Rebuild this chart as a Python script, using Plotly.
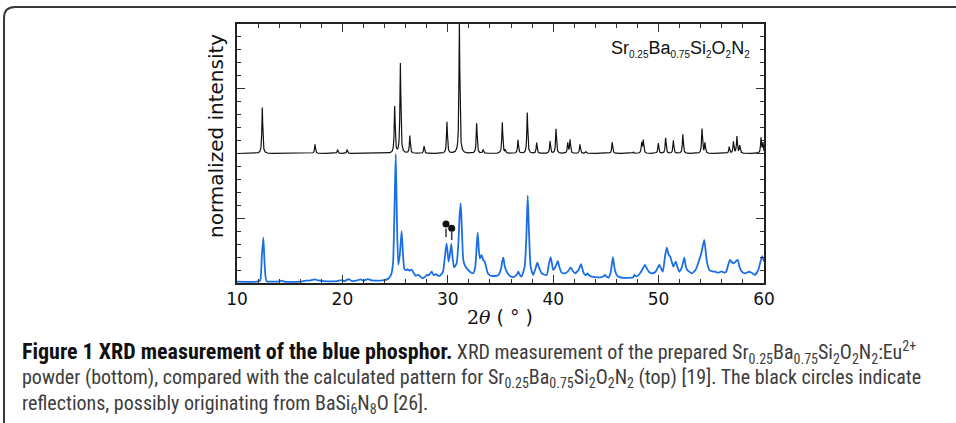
import numpy as np
import plotly.graph_objects as go

# ---- calculated pattern: reflections (2theta in degrees, normalized intensity)
calc_pos = [12.40, 17.40, 19.55, 20.45, 24.96, 25.50, 26.40, 27.75, 29.92, 31.10,
            32.74, 33.35, 35.17, 35.45, 36.66, 37.54, 38.43, 39.70, 40.27, 41.38,
            41.60, 42.54, 43.10, 45.60, 47.60, 48.40, 48.55, 49.97, 50.67, 51.40,
            52.30, 54.12, 54.40, 56.70, 57.10, 57.43, 57.70, 59.72, 59.90]
calc_int = [0.355, 0.070, 0.030, 0.030, 0.360, 0.695, 0.135, 0.057, 0.243, 1.000,
            0.232, 0.030, 0.240, 0.025, 0.105, 0.315, 0.083, 0.095, 0.190, 0.080,
            0.105, 0.070, 0.015, 0.087, 0.010, 0.080, 0.100, 0.080, 0.120, 0.100,
            0.147, 0.190, 0.080, 0.050, 0.090, 0.130, 0.060, 0.120, 0.080]
calc_offset = 1.0

# ---- measured pattern of the prepared powder (2theta, normalized intensity)
meas_2theta = [10.0, 11.9, 12.2, 12.35, 12.5, 12.62, 12.8, 13.5, 14.0, 14.3, 14.5, 16.0, 16.5,
               17.0, 17.4, 17.7, 18.2, 18.8, 19.5, 19.9, 20.2, 20.6, 20.9, 21.4, 21.7, 22.0,
               22.4, 22.8, 23.3, 23.8, 24.3, 24.6, 24.8, 24.95, 25.06, 25.17, 25.3, 25.45,
               25.62, 25.75, 25.88, 26.05, 26.2, 26.35, 26.55, 26.75, 26.95, 27.2, 27.4,
               27.6, 27.85, 28.0, 28.2, 28.47, 28.65, 28.9, 29.1, 29.3, 29.55, 29.72, 29.88,
               30.0, 30.08, 30.2, 30.33, 30.45, 30.6, 30.84, 31.0, 31.12, 31.22, 31.32,
               31.47, 31.65, 31.8, 32.1, 32.4, 32.6, 32.75, 32.84, 32.95, 33.05, 33.2, 33.35,
               33.5, 33.8, 34.0, 34.3, 34.8, 35.05, 35.17, 35.27, 35.4, 35.6, 35.9, 36.2,
               36.5, 36.7, 36.85, 37.0, 37.3, 37.45, 37.58, 37.7, 37.86, 38.1, 38.35, 38.5,
               38.65, 38.9, 39.38, 39.6, 39.76, 39.9, 40.0, 40.25, 40.43, 40.6, 40.8, 41.1,
               41.4, 41.66, 41.85, 42.07, 42.4, 42.64, 42.8, 42.9, 43.1, 43.24, 43.4, 43.65,
               44.0, 44.44, 44.75, 44.9, 45.05, 45.23, 45.45, 45.67, 45.85, 46.03, 46.3,
               46.66, 47.2, 47.6, 47.7, 47.9, 48.24, 48.5, 48.7, 48.9, 49.1, 49.34, 49.7,
               50.06, 50.25, 50.4, 50.6, 50.77, 50.95, 51.1, 51.3, 51.4, 51.62, 51.8, 51.96,
               52.2, 52.44, 52.6, 52.73, 53.14, 53.5, 53.8, 54.05, 54.33, 54.5, 54.58, 54.83,
               55.1, 55.35, 55.7, 55.98, 56.2, 56.4, 56.6, 56.78, 56.95, 57.1, 57.3, 57.5,
               57.7, 57.9, 58.2, 58.6, 58.9, 59.13, 59.45, 59.65, 59.83, 60.0]
meas_int = [0.010, 0.010, 0.020, 0.200, 0.350, 0.150, 0.015, 0.010, 0.012, 0.018, 0.010, 0.010, 0.018,
            0.020, 0.028, 0.020, 0.015, 0.012, 0.015, 0.022, 0.015, 0.030, 0.015, 0.020, 0.028, 0.018,
            0.030, 0.020, 0.018, 0.020, 0.030, 0.060, 0.150, 0.600, 0.996, 0.500, 0.140, 0.220,
            0.400, 0.220, 0.110, 0.100, 0.106, 0.095, 0.103, 0.080, 0.055, 0.065, 0.050,
            0.036, 0.049, 0.062, 0.060, 0.087, 0.060, 0.069, 0.055, 0.060, 0.090, 0.200, 0.306,
            0.220, 0.165, 0.220, 0.301, 0.200, 0.120, 0.152, 0.300, 0.520, 0.615, 0.450,
            0.178, 0.130, 0.113, 0.087, 0.075, 0.120, 0.300, 0.389, 0.250, 0.190, 0.216, 0.180,
            0.165, 0.075, 0.060, 0.054, 0.062, 0.110, 0.170, 0.196, 0.130, 0.087, 0.054, 0.045,
            0.060, 0.087, 0.060, 0.049, 0.131, 0.350, 0.674, 0.400, 0.126, 0.062, 0.120, 0.157,
            0.120, 0.075, 0.062, 0.150, 0.200, 0.140, 0.100, 0.130, 0.170, 0.120, 0.080, 0.075,
            0.090, 0.120, 0.095, 0.075, 0.100, 0.145, 0.100, 0.075, 0.060, 0.075, 0.060, 0.049,
            0.045, 0.044, 0.050, 0.062, 0.050, 0.041, 0.080, 0.200, 0.100, 0.062, 0.045,
            0.040, 0.040, 0.044, 0.062, 0.050, 0.075, 0.110, 0.139, 0.110, 0.085, 0.075, 0.085,
            0.139, 0.110, 0.087, 0.200, 0.273, 0.220, 0.203, 0.150, 0.126, 0.165, 0.120, 0.087,
            0.120, 0.195, 0.120, 0.100, 0.075, 0.100, 0.165, 0.229, 0.332, 0.220, 0.165, 0.100,
            0.090, 0.087, 0.080, 0.090, 0.080, 0.085, 0.140, 0.178, 0.160, 0.152, 0.165, 0.178,
            0.120, 0.087, 0.075, 0.087, 0.075, 0.062, 0.100, 0.160, 0.208, 0.165]

# ---- reflections of a possible secondary phase (marked with black circles)
impurity_2theta = [29.83, 30.37]
impurity_mark = [0.456, 0.422]
impurity_stem_top = [0.420, 0.396]
impurity_stem_bottom = [0.356, 0.332]

x_ticks = [10, 20, 30, 40, 50, 60]
x_range = [10, 60]
y_range = [0, 2]

# ---- figure geometry (pixels)
W, H = 956, 423
L, R, T, B = 237, 764, 24, 283


def px(x):
    return (x - L) / (R - L)


def py(y):
    return (B - y) / (B - T)


# calculated profile: Lorentzian line shape on each reflection
fwhm = 0.10
tt = np.arange(x_range[0], x_range[1] + 1e-9, 0.004)
g = fwhm / 2
calc_curve = np.zeros_like(tt)
for p, h in zip(calc_pos, calc_int):
    calc_curve += h * g**2 / ((tt - p) ** 2 + g**2)

fig = go.Figure()

fig.add_trace(go.Scatter(
    x=meas_2theta, y=meas_int, mode="lines",
    line=dict(color="#1b6fe4", width=1.8, shape="spline", smoothing=0.5),
    hoverinfo="skip", showlegend=False))

fig.add_trace(go.Scatter(
    x=tt, y=calc_curve + calc_offset, mode="lines",
    line=dict(color="#111111", width=1.2), hoverinfo="skip", showlegend=False))

stem_x, stem_y = [], []
for xv, top, bot in zip(impurity_2theta, impurity_stem_top, impurity_stem_bottom):
    stem_x += [xv, xv, None]
    stem_y += [top, bot, None]
fig.add_trace(go.Scatter(
    x=stem_x, y=stem_y, mode="lines",
    line=dict(color="#444444", width=1.6), hoverinfo="skip", showlegend=False))
fig.add_trace(go.Scatter(
    x=impurity_2theta, y=impurity_mark, mode="markers",
    marker=dict(color="#111111", size=7), hoverinfo="skip", showlegend=False))

axis_common = dict(
    showline=True, linecolor="#222222", linewidth=1.5, mirror="ticks",
    ticks="inside", tickcolor="#333333", tickwidth=1.1, showgrid=False, zeroline=False,
)

fig.update_xaxes(
    range=x_range, tickvals=x_ticks, ticklen=8,
    tickfont=dict(family="DejaVu Sans", size=17, color="#111111"),
    minor=dict(dtick=2, ticklen=4.5, ticks="inside", tickcolor="#333333", tickwidth=1.1),
    **axis_common)
fig.update_yaxes(
    range=y_range, dtick=0.5, ticklen=8, showticklabels=False,
    minor=dict(dtick=0.1, ticklen=4.5, ticks="inside", tickcolor="#333333", tickwidth=1.1),
    **axis_common)

sub = lambda s: f"<sub><span style='font-size:10px'>{s}</span></sub>"
formula = f"Sr{sub('0.25')}Ba{sub('0.75')}Si{sub('2')}O{sub('2')}N{sub('2')}"

annotations = [
    dict(x=px(752), y=py(49), xref="paper", yref="paper", xanchor="right", yanchor="middle",
         text=formula, showarrow=False,
         font=dict(family="Liberation Sans, Arial, sans-serif", size=18, color="#111111")),
    dict(x=px(216), y=py(136), xref="paper", yref="paper", xanchor="center", yanchor="middle",
         text="normalized intensity", textangle=-90, showarrow=False,
         font=dict(family="DejaVu Sans", size=20, color="#111111")),
    dict(x=px(500), y=py(317), xref="paper", yref="paper", xanchor="center", yanchor="middle",
         text="<span style='font-family:DejaVu Serif'>2<i>θ</i></span> ( ° )", showarrow=False,
         font=dict(family="DejaVu Sans", size=19, color="#111111")),
]

cap_font = dict(family="Liberation Sans Narrow, Roboto Condensed, Roboto, sans-serif",
                size=20, color="#3d3d3d")
caption_lines = [
    "<b><span style='color:#111111;font-size:22px'>Figure 1 XRD measurement of the blue "
    "phosphor.</span></b> "
    "XRD measurement of the prepared Sr<sub>0.25</sub>Ba<sub>0.75</sub>Si<sub>2</sub>O<sub>2</sub>"
    "N<sub>2</sub>:Eu<sup>2+</sup>",
    "powder (bottom), compared with the calculated pattern for Sr<sub>0.25</sub>Ba<sub>0.75</sub>"
    "Si<sub>2</sub>O<sub>2</sub>N<sub>2</sub> (top) [19]. The black circles indicate",
    "reflections, possibly originating from BaSi<sub>6</sub>N<sub>8</sub>O [26].",
]
for text, ypix in zip(caption_lines, [352, 378, 404]):
    annotations.append(dict(x=px(20), y=py(ypix), xref="paper", yref="paper",
                            xanchor="left", yanchor="middle", text=text, showarrow=False,
                            font=cap_font))

# rounded frame around the figure panel
frame_path = (f"M {px(4)},{py(440)} L {px(4)},{py(18)} "
              f"Q {px(4)},{py(7)} {px(15)},{py(7)} L {px(970)},{py(7)}")

fig.update_layout(
    width=W, height=H,
    margin=dict(l=L, r=W - R, t=T, b=H - B),
    paper_bgcolor="white", plot_bgcolor="white",
    annotations=annotations,
    shapes=[dict(type="path", path=frame_path, xref="paper", yref="paper",
                 line=dict(color="#3a3a3a", width=2))],
)

fig.write_html("out.html")
